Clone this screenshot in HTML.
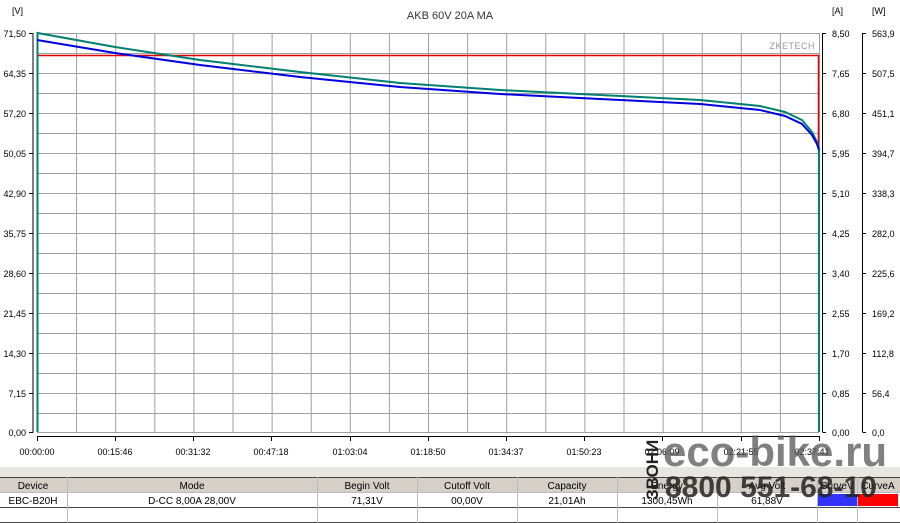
<!DOCTYPE html>
<html><head><meta charset="utf-8"><style>
body{margin:0;width:900px;height:523px;background:#fff;overflow:hidden;position:relative;font-family:"Liberation Sans",sans-serif}
</style></head><body>
<svg width="900" height="523" style="position:absolute;left:0;top:0" font-family="Liberation Sans, sans-serif" font-size="9" fill="#000">
<rect x="0" y="0" width="900" height="475" fill="#fff"/>
<text x="450" y="19" text-anchor="middle" font-size="11" fill="#333">AKB 60V 20A MA</text>
<text x="12" y="14">[V]</text><text x="832" y="14">[A]</text><text x="872" y="14">[W]</text>
<g stroke="#a0a0a0" stroke-width="1">
<path d="M37.5 33V432M76.6 33V432M115.7 33V432M154.8 33V432M193.9 33V432M233 33V432M272.1 33V432M311.2 33V432M350.3 33V432M389.4 33V432M428.5 33V432M467.6 33V432M506.7 33V432M545.8 33V432M584.9 33V432M624 33V432M663.1 33V432M702.2 33V432M741.3 33V432M780.4 33V432M819.5 33V432"/>
<path d="M37 33.5H819M37 53.5H819M37 73.5H819M37 93.5H819M37 113.5H819M37 133.5H819M37 153.5H819M37 173.5H819M37 193.5H819M37 213.5H819M37 233.5H819M37 253.5H819M37 273.5H819M37 293.5H819M37 313.5H819M37 333.5H819M37 353.5H819M37 373.5H819M37 393.5H819M37 413.5H819M37 432.5H819"/>
</g>
<text x="815" y="49" text-anchor="end" fill="#999" font-size="9" letter-spacing="0.5">ZKETECH</text>
<g stroke="#000"><path d="M33 33.5V432.5M29 33.5H33M29 73.5H33M29 113.5H33M29 153.5H33M29 193.5H33M29 233.5H33M29 273.5H33M29 313.5H33M29 353.5H33M29 393.5H33M29 432.5H33"/>
<path d="M822.5 33V432M822.5 33.5H826M822.5 73.5H826M822.5 113.5H826M822.5 153.5H826M822.5 193.5H826M822.5 233.5H826M822.5 273.5H826M822.5 313.5H826M822.5 353.5H826M822.5 393.5H826M822.5 432.5H826"/>
<path d="M862.5 33V432M862.5 33.5H866M862.5 73.5H866M862.5 113.5H866M862.5 153.5H866M862.5 193.5H866M862.5 233.5H866M862.5 273.5H866M862.5 313.5H866M862.5 353.5H866M862.5 393.5H866M862.5 432.5H866"/>
<path d="M37 436.5H819M37.5 436V441M115.5 436V441M193.5 436V441M271.5 436V441M350.5 436V441M428.5 436V441M506.5 436V441M584.5 436V441M662.5 436V441M741.5 436V441M819.5 436V441"/></g>
<g text-anchor="end"><text x="26" y="37">71,50</text><text x="26" y="77">64,35</text><text x="26" y="117">57,20</text><text x="26" y="157">50,05</text><text x="26" y="197">42,90</text><text x="26" y="237">35,75</text><text x="26" y="277">28,60</text><text x="26" y="317">21,45</text><text x="26" y="357">14,30</text><text x="26" y="397">7,15</text><text x="26" y="436">0,00</text></g>
<g><text x="832" y="37">8,50</text><text x="832" y="77">7,65</text><text x="832" y="117">6,80</text><text x="832" y="157">5,95</text><text x="832" y="197">5,10</text><text x="832" y="237">4,25</text><text x="832" y="277">3,40</text><text x="832" y="317">2,55</text><text x="832" y="357">1,70</text><text x="832" y="397">0,85</text><text x="832" y="436">0,00</text></g>
<g><text x="872" y="37">563,9</text><text x="872" y="77">507,5</text><text x="872" y="117">451,1</text><text x="872" y="157">394,7</text><text x="872" y="197">338,3</text><text x="872" y="237">282,0</text><text x="872" y="277">225,6</text><text x="872" y="317">169,2</text><text x="872" y="357">112,8</text><text x="872" y="397">56,4</text><text x="872" y="436">0,0</text></g>
<g text-anchor="middle"><text x="37" y="455">00:00:00</text><text x="115" y="455">00:15:46</text><text x="193" y="455">00:31:32</text><text x="271" y="455">00:47:18</text><text x="350" y="455">01:03:04</text><text x="428" y="455">01:18:50</text><text x="506" y="455">01:34:37</text><text x="584" y="455">01:50:23</text><text x="662" y="455">02:06:09</text><text x="741" y="455">02:21:55</text><text x="812" y="455">02:37:41</text></g>
<path d="M37 55.5H818.5V150" stroke="#e00000" stroke-width="1.5" fill="none"/>
<path d="M37.5 432V33L115 47L200 60L300 72L400 83L500 90L600 95L700 100L760 106L785 112L802 120L812 132L817 142L819 150V432" stroke="#008070" stroke-width="2" fill="none"/>
<path d="M37 40L115 53L200 65L300 77L400 87L500 94L600 99L700 104L760 110L785 116L802 124L812 135L817 144L819 150" stroke="#0000e0" stroke-width="2" fill="none"/>
<rect x="0" y="467" width="900" height="10" fill="#e8e6e0"/>
<rect x="0" y="477" width="900" height="15" fill="#d4d0c8"/>
<path d="M0 477.5H900M0 507.5H900M0 522.5H900" stroke="#444"/>
<path d="M0 492.5H900" stroke="#bbb"/>
<path d="M67.5 477V523M317.5 477V523M417.5 477V523M517.5 477V523M617.5 477V523M717.5 477V523M817.5 477V523M857.5 477V523" stroke="#bbb"/>
<g text-anchor="middle" font-size="10"><text x="33" y="489">Device</text><text x="192" y="489">Mode</text><text x="367" y="489">Begin Volt</text><text x="467" y="489">Cutoff Volt</text><text x="567" y="489">Capacity</text><text x="667" y="489">Energy</text><text x="767" y="489">Avg Volt</text><text x="837" y="489">CurveV</text><text x="878" y="489">CurveA</text>
<text x="33" y="504">EBC-B20H</text><text x="192" y="504">D-CC  8,00A  28,00V</text><text x="367" y="504">71,31V</text><text x="467" y="504">00,00V</text><text x="567" y="504">21,01Ah</text><text x="667" y="504">1300,45Wh</text><text x="767" y="504">61,88V</text></g>
<rect x="818" y="494" width="39" height="12" fill="#3333ff"/><rect x="858" y="494" width="40" height="12" fill="#ff0000"/>
<text x="663" y="466" font-size="42" font-weight="bold" fill="#555" fill-opacity="0.75">eco-bike.ru</text>
<text x="665" y="497" font-size="30" font-weight="bold" fill="#222" fill-opacity="0.85">8800 551-68-10</text>
<text transform="translate(658,500) rotate(-90)" font-size="17" font-weight="bold" fill="#222">ЗВОНИ</text>
</svg>
</body></html>
